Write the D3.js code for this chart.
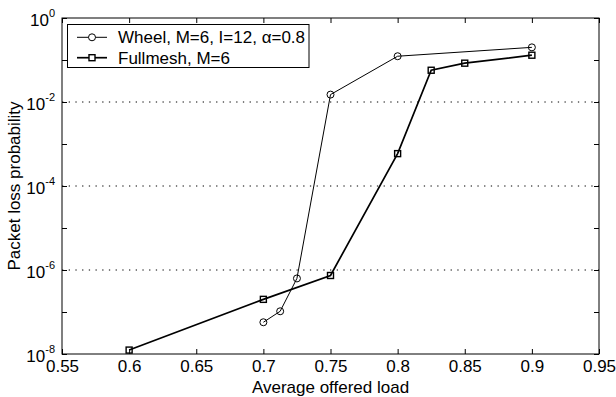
<!DOCTYPE html>
<html>
<head>
<meta charset="utf-8">
<script src="https://cdn.jsdelivr.net/npm/d3@7"></script>
<style>
  html, body { margin: 0; padding: 0; background: #fff; }
  svg { display: block; font-family: "Liberation Sans", Arial, Helvetica, sans-serif; }
</style>
</head>
<body>
<svg id="chart" width="616" height="397"></svg>
<script>
// Packet loss vs. offered load, two switch topologies
const wheelLoad = [0.7, 0.7125, 0.725, 0.75, 0.8, 0.9];
const wheelLoss = [5.7e-8, 1.04e-7, 6.3e-7, 1.5e-2, 0.123, 0.2];
const meshLoad  = [0.6, 0.7, 0.75, 0.8, 0.825, 0.85, 0.9];
const meshLoss  = [1.24e-8, 2.0e-7, 7.4e-7, 5.9e-4, 0.057, 0.084, 0.13];

const xTicks = [0.55, 0.6, 0.65, 0.7, 0.75, 0.8, 0.85, 0.9, 0.95];
const xTickLabels = ["0.55", "0.6", "0.65", "0.7", "0.75", "0.8", "0.85", "0.9", "0.95"];
const yTickExps = [0, -1, -2, -3, -4, -5, -6, -7, -8];
const yLabelExps = [0, -2, -4, -6, -8];
const yGridExps = [-2, -4, -6];

const seriesNames = ["Wheel, M=6, I=12, \u03b1=0.8", "Fullmesh, M=6"];
const xTitle = "Average offered load";
const yTitle = "Packet loss probability";

const L = 62, R = 599, T = 18, B = 354;
const FS = 17;

const svg = d3.select("#chart");
const x = d3.scaleLinear().domain([0.55, 0.95]).range([L, R]);
const y = d3.scaleLog().domain([1e-8, 1]).range([B, T]);

// dotted grid on labelled decades
svg.append("g").selectAll("line").data(yGridExps).join("line")
  .attr("x1", L).attr("x2", R)
  .attr("y1", d => y(Math.pow(10, d))).attr("y2", d => y(Math.pow(10, d)))
  .attr("stroke", "#000").attr("stroke-width", 1)
  .attr("stroke-dasharray", "1.3,5.4");

// axes with inward ticks on all four sides
const xb = d3.axisBottom(x).tickValues(xTicks).tickSizeInner(-5).tickSizeOuter(0)
  .tickPadding(6).tickFormat((d, i) => xTickLabels[i]);
const xt = d3.axisTop(x).tickValues(xTicks).tickSizeInner(-5).tickSizeOuter(0).tickFormat("");
const yTickVals = yTickExps.map(e => Math.pow(10, e));
const yl = d3.axisLeft(y).tickValues(yTickVals).tickSizeInner(-5).tickSizeOuter(0).tickFormat("");
const yr = d3.axisRight(y).tickValues(yTickVals).tickSizeInner(-5).tickSizeOuter(0).tickFormat("");

function styleAxis(g) {
  g.select(".domain").remove();
  g.selectAll(".tick line").attr("stroke", "#000").attr("stroke-width", 1);
  g.selectAll("text").attr("fill", "#000").attr("font-size", FS).attr("font-family", null);
}
svg.append("g").attr("transform", `translate(0,${B})`).call(xb).call(styleAxis);
svg.append("g").attr("transform", `translate(0,${T})`).call(xt).call(styleAxis);
svg.append("g").attr("transform", `translate(${L},0)`).call(yl).call(styleAxis);
svg.append("g").attr("transform", `translate(${R},0)`).call(yr).call(styleAxis);

// frame
svg.append("rect").attr("x", L).attr("y", T).attr("width", R - L).attr("height", B - T)
  .attr("fill", "none").attr("stroke", "#000").attr("stroke-width", 1);

// y tick labels as powers of ten
const yl_g = svg.append("g").attr("font-size", FS).attr("fill", "#000");
yLabelExps.forEach(e => {
  const t = yl_g.append("text")
    .attr("x", 55).attr("y", y(Math.pow(10, e)) + 8)
    .attr("text-anchor", "end");
  t.append("tspan").text("10");
  t.append("tspan").attr("dy", -9).attr("font-size", 11).text(String(e));
});

// axis titles
svg.append("text").attr("x", (L + R) / 2).attr("y", 393)
  .attr("text-anchor", "middle").attr("font-size", FS).text(xTitle);
svg.append("text").attr("transform", `translate(20,${(T + B) / 2}) rotate(-90)`)
  .attr("text-anchor", "middle").attr("font-size", FS).text(yTitle);

// series
const line = d3.line().x(d => x(d[0])).y(d => y(d[1]));
const wheel = wheelLoad.map((v, i) => [v, wheelLoss[i]]);
const mesh = meshLoad.map((v, i) => [v, meshLoss[i]]);

svg.append("path").datum(mesh).attr("d", line)
  .attr("fill", "none").attr("stroke", "#000").attr("stroke-width", 1.7);
svg.append("path").datum(wheel).attr("d", line)
  .attr("fill", "none").attr("stroke", "#000").attr("stroke-width", 1);

const SQ = 6;
svg.append("g").selectAll("rect").data(mesh).join("rect")
  .attr("x", d => x(d[0]) - SQ / 2).attr("y", d => y(d[1]) - SQ / 2)
  .attr("width", SQ).attr("height", SQ)
  .attr("fill", "none").attr("stroke", "#000").attr("stroke-width", 1.4);
svg.append("g").selectAll("circle").data(wheel).join("circle")
  .attr("cx", d => x(d[0])).attr("cy", d => y(d[1])).attr("r", 3.5)
  .attr("fill", "none").attr("stroke", "#000").attr("stroke-width", 1);

// legend
const lg = svg.append("g");
lg.append("rect").attr("x", 67.5).attr("y", 24.5).attr("width", 241.5).attr("height", 43)
  .attr("fill", "#fff").attr("stroke", "#000").attr("stroke-width", 1);
const rowsY = [37.3, 57.7];
seriesNames.forEach((name, i) => {
  const cy = rowsY[i];
  lg.append("line").attr("x1", 77).attr("x2", 107).attr("y1", cy).attr("y2", cy)
    .attr("stroke", "#000").attr("stroke-width", i === 1 ? 1.7 : 1);
  if (i === 0) {
    lg.append("circle").attr("cx", 92).attr("cy", cy).attr("r", 3.5)
      .attr("fill", "#fff").attr("stroke", "#000");
  } else {
    lg.append("rect").attr("x", 92 - SQ / 2).attr("y", cy - SQ / 2).attr("width", SQ).attr("height", SQ)
      .attr("fill", "#fff").attr("stroke", "#000").attr("stroke-width", 1.4);
  }
  lg.append("text").attr("x", 118).attr("y", cy + 6).attr("font-size", FS).text(name);
});
</script>
</body>
</html>
